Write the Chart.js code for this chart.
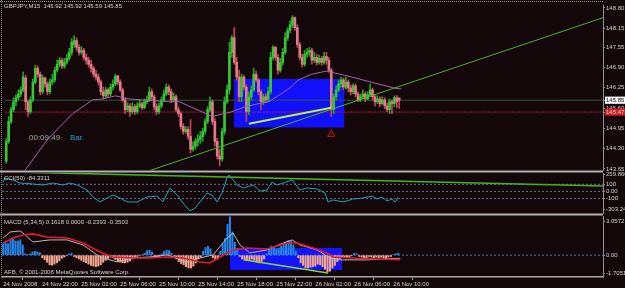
<!DOCTYPE html>
<html><head><meta charset="utf-8">
<script src="https://cdn.jsdelivr.net/npm/chart.js@4.4.1/dist/chart.umd.min.js"></script>
<style>
html,body{margin:0;padding:0;background:#14070a;width:625px;height:288px;overflow:hidden}
canvas{position:absolute;left:0;top:0}
</style></head><body>
<canvas id="cMain" width="625" height="288"></canvas>
<canvas id="cCci" width="625" height="288"></canvas>
<canvas id="cMacd" width="625" height="288"></canvas>
<script>
// ---------- DATA ----------
const symbol = 'GBPJPY,M15';
const opens = [
143.90,144.53,145.17,145.55,145.80,145.93,146.05,146.18,146.56,145.80,
145.48,145.86,146.43,146.87,146.68,146.12,146.56,146.37,146.12,146.43,
146.50,146.81,147.00,147.13,146.94,147.06,147.19,147.38,147.63,147.76,
147.54,147.38,147.44,147.22,147.13,147.00,146.87,146.68,146.59,146.43,
146.12,145.99,146.18,146.05,146.27,146.37,146.62,146.43,146.18,145.86,
145.55,145.67,145.48,145.64,145.48,145.67,145.74,145.61,145.80,145.86,
146.12,145.96,145.64,145.48,145.67,145.86,146.05,146.27,146.12,145.86,
145.96,145.55,145.42,145.01,144.85,144.92,144.69,144.28,144.38,144.53,
144.60,144.69,144.85,145.17,145.55,145.80,145.17,144.53,144.06,143.97,
144.85,145.80,146.18,147.38,147.85,147.06,146.59,145.96,146.59,146.27,
145.48,145.96,146.18,146.68,146.50,146.12,145.80,145.96,145.86,146.12,
147.22,147.54,147.22,146.81,147.06,147.38,147.85,148.08,148.26,148.49,
148.17,147.63,147.22,147.00,147.32,147.38,147.44,147.13,147.22,147.06,
147.19,147.06,147.25,147.13,146.81,145.55,145.96,146.18,146.37,146.50,
146.27,146.43,146.24,146.12,146.31,146.05,145.86,145.96,146.05,145.89,
146.02,146.18,145.96,145.80,145.89,145.74,145.86,145.67,145.55,145.80,
145.74,145.93,145.92];
const highs = [
144.63,145.33,145.64,145.93,146.02,146.18,146.27,146.75,146.65,145.86,
145.96,146.53,146.97,146.94,146.75,146.65,146.59,146.43,146.53,146.68,
146.91,147.13,147.22,147.19,147.19,147.32,147.51,147.82,147.92,147.85,
147.63,147.57,147.51,147.32,147.22,147.13,146.94,146.81,146.68,146.50,
146.27,146.27,146.24,146.37,146.50,146.68,146.65,146.50,146.24,145.93,
145.77,145.74,145.77,145.71,145.77,145.86,145.80,145.89,145.99,146.27,
146.21,146.02,145.74,145.77,145.96,146.18,146.37,146.34,146.21,146.08,
146.02,145.64,145.48,145.10,145.01,145.01,145.23,144.53,144.63,144.76,
144.85,144.95,145.26,145.64,145.96,145.86,145.26,144.63,144.28,144.95,
145.96,146.34,147.70,147.92,148.17,147.22,146.81,146.68,146.65,146.34,
146.12,146.31,146.87,146.78,146.56,146.18,146.05,146.05,146.27,147.38,
147.60,147.57,147.32,147.19,147.51,148.01,148.17,148.39,148.55,148.52,
148.26,147.70,147.32,147.44,147.51,147.54,147.51,147.38,147.32,147.29,
147.25,147.38,147.38,147.22,146.87,146.05,146.31,146.50,146.59,146.56,
146.59,146.50,146.34,146.37,146.37,146.12,146.05,146.18,146.12,146.12,
146.37,146.24,146.02,145.99,145.96,145.96,145.93,145.77,145.89,145.86,
145.99,146.00,145.92];
const lows = [
143.84,144.47,145.10,145.48,145.67,145.86,145.96,146.12,145.55,145.33,
145.42,145.80,146.37,146.59,146.02,146.05,146.27,146.02,146.05,146.34,
146.43,146.75,146.91,146.87,146.87,147.00,147.13,147.29,147.54,147.44,
147.29,147.32,147.13,147.00,146.91,146.75,146.59,146.50,146.34,146.02,
145.89,145.93,145.96,145.99,146.18,146.31,146.34,146.12,145.80,145.42,
145.48,145.33,145.42,145.39,145.42,145.61,145.55,145.58,145.74,145.80,
145.86,145.55,145.39,145.42,145.61,145.80,145.99,146.02,145.77,145.80,
145.48,145.33,144.92,144.76,144.79,144.60,144.16,144.22,144.28,144.38,
144.47,144.53,144.76,145.10,145.48,145.07,144.38,143.97,143.75,143.90,
144.76,145.74,146.05,147.22,147.00,146.50,145.80,145.80,146.18,145.17,
145.39,145.86,146.12,146.43,146.02,145.55,145.71,145.77,145.80,146.05,
147.13,147.13,146.68,146.75,146.97,147.32,147.76,148.01,148.17,148.08,
147.54,147.13,146.91,146.94,147.22,147.25,147.00,147.06,146.97,147.00,
146.97,147.00,147.00,146.75,145.33,145.42,145.86,146.12,146.27,146.18,
146.21,146.12,146.02,146.05,145.96,145.80,145.80,145.89,145.80,145.86,
145.96,145.86,145.67,145.74,145.64,145.71,145.58,145.48,145.42,145.42,
145.64,145.61,145.59];
const closes = [
144.53,145.17,145.55,145.80,145.93,146.05,146.18,146.59,145.80,145.48,
145.86,146.43,146.87,146.68,146.12,146.56,146.37,146.12,146.43,146.50,
146.81,147.00,147.13,146.94,147.06,147.19,147.38,147.70,147.76,147.54,
147.38,147.44,147.22,147.13,147.00,146.87,146.68,146.59,146.43,146.12,
145.99,146.18,146.05,146.27,146.37,146.62,146.43,146.18,145.86,145.55,
145.67,145.48,145.64,145.48,145.67,145.74,145.61,145.80,145.86,146.12,
145.96,145.64,145.48,145.67,145.86,146.05,146.27,146.12,145.86,145.96,
145.55,145.42,145.01,144.85,144.92,144.69,144.28,144.38,144.53,144.60,
144.69,144.85,145.17,145.55,145.80,145.17,144.53,144.06,143.97,144.85,
145.80,146.18,147.38,147.85,147.06,146.59,145.96,146.59,146.27,145.48,
145.96,146.18,146.68,146.50,146.12,145.80,145.96,145.86,146.12,147.22,
147.54,147.22,146.81,147.06,147.38,147.85,148.08,148.26,148.49,148.17,
147.63,147.22,147.00,147.32,147.38,147.44,147.13,147.22,147.06,147.19,
147.06,147.25,147.13,146.81,145.55,145.96,146.18,146.37,146.50,146.27,
146.43,146.24,146.12,146.31,146.05,145.86,145.96,146.05,145.89,146.02,
146.18,145.96,145.80,145.89,145.74,145.86,145.67,145.55,145.80,145.74,
145.93,145.80,145.85];

// moving average (violet) read at intervals
const maBars = [6.9,17.1,27.4,35.6,39.7,45.0,50.8,56.1,67.2,71.3,80.7,84.8,93.0,98.4,104.1,108.2,116.4,120.5,125.8,132.0,139.4,150.4,159.9,162.8];
const maVals = [143.52,144.60,145.42,145.86,145.89,145.99,145.89,145.86,145.80,145.80,145.48,145.33,145.48,145.64,145.74,145.80,146.21,146.50,146.68,146.78,146.65,146.43,146.24,146.21];

const priceTicks = ['143.65','144.30','144.95','145.60','146.25','146.90','147.55','148.15','148.80'];
const bidPrice = 145.85;
const levelPrice = 145.47;
const trendBars = [56.1, 246];
const trendVals = [143.52, 148.49];
const innerTrendBars = [100.0, 134.0];
const innerTrendVals = [145.10, 145.61];
const boxBars = [93.9, 139.4];
const boxPrices = [144.98, 146.53];
const arrowBar = 134;
const arrowPrice = 144.76;

// CCI(50)
const cciBars = [0,0.7,4.0,6.9,12.2,16.3,20.4,24.5,27.4,30.3,34.4,36.8,39.7,42.6,45.0,47.9,50.8,54.9,59.0,63.1,65.5,68.4,71.3,73.7,76.6,78.7,80.7,83.6,85.6,87.7,89.7,91.8,92.6,94.3,95.9,98.4,102.5,105.3,108.2,110.2,112.3,114.8,118.5,121.7,124.6,128.7,132.0,133.2,135.3,139.4,143.5,147.6,151.3,153.3,155.4,157.4,159.5,160.7,162];
const cciVals = [133,190,161,119,105,91,119,91,119,91,20,-78,-148,-92,-50,-92,-148,-148,-78,-64,-148,49,-50,-162,-275,-233,-148,-22,-50,-148,-22,190,232,161,91,49,91,6,20,133,91,119,161,20,49,35,-22,-148,-120,-148,-106,-92,-64,-106,-78,-134,-106,-148,-84.3311];
const cciLevels = [100, 0, -100];
const cciTickVals = [259.866, 100, 0, -100, -303.243];
const cciTickLabels = ['259.866','100','0.00','-100','-303.243'];
const cciTrendBars = [-0.5, 246];
const cciTrendVals = [278, 77];

// MACD (5,34,5)
const macdHist = [
0.9,0.95,0.9,1.2,1.3,1.1,1.1,1.2,0.8,0.1,
0.05,0.1,0.25,0.3,0.25,0.2,-0.2,-0.35,-0.55,-0.75,
-0.78,-0.7,-0.6,-0.45,-0.25,-0.15,-0.05,0.1,0.15,-0.1,
-0.2,-0.3,-0.4,-0.5,-0.6,-0.7,-0.8,-0.85,-0.9,-0.85,
-0.75,-0.55,-0.4,-0.25,-0.15,-0.2,-0.35,-0.5,-0.55,-0.6,
-0.6,-0.55,-0.45,-0.3,-0.2,-0.1,-0.05,0.05,0.15,0.35,
0.4,0.25,-0.1,-0.15,-0.1,0.1,0.3,0.4,0.35,0.15,
-0.1,-0.3,-0.5,-0.65,-0.75,-0.9,-1.0,-1.0,-0.85,-0.6,
-0.3,-0.15,0.3,0.6,0.7,0.5,-0.2,-0.35,-0.3,0.3,
0.9,1.3,2.4,3.0,1.8,1.0,0.5,-0.1,-0.3,-0.4,
-0.4,-0.35,-0.3,-0.4,-0.55,-0.6,-0.5,-0.3,0.1,0.5,
0.7,0.6,0.5,0.55,0.7,0.85,1.0,1.15,1.1,0.8,
0.3,-0.2,-0.6,-0.8,-1.0,-1.0,-0.95,-0.9,-0.85,-0.7,
-0.75,-0.9,-1.1,-1.3,-1.25,-1.0,-0.8,-0.5,-0.3,-0.2,
-0.15,-0.2,-0.15,-0.05,0.15,0.1,-0.1,-0.15,-0.2,-0.2,
-0.1,-0.15,-0.2,-0.15,-0.2,-0.15,-0.2,-0.25,-0.15,-0.1,
0.05,0.1,0.1618];
const macdRedBars = [0,4.0,8.1,12.2,18.0,26.2,32.7,39.7,45.0,53.2,60.2,67.2,73.7,80.7,84.8,88.9,94.3,100.0,108.2,116.4,120.5,127.1,132.8,135.3,142.3,155.8,162.8];
const macdRedVals = [0.95,1.34,1.58,1.66,1.42,1.34,0.95,0.25,-0.14,-0.22,-0.22,-0.14,-0.22,-0.53,-0.61,-0.14,0.41,0.56,0.48,0.95,0.95,0.56,0.17,-0.14,-0.22,-0.32,-0.3503];
const macdGrayBars = [0,2.8,6.9,8.1,12.2,19.2,26.2,32.7,39.7,46.7,53.2,60.2,67.2,75.4,80.7,86.1,91.8,94.3,97.1,101.2,108.2,114.8,118.5,121.7,128.7,134.0,138.1,149.2,162.8];
const macdGrayVals = [1.34,1.81,1.89,1.73,1.03,1.19,1.19,0.80,-0.14,-0.53,-0.22,-0.14,0.02,-0.53,-0.22,0.02,1.34,1.73,0.80,0.17,0.41,0.95,1.19,0.80,0.41,-0.22,-0.37,-0.37,-0.2393];
const macdTickVals = [3.0572, 0, -1.7051];
const macdTickLabels = ['3.0572','0.00','-1.7051'];
const macdBoxBars = [93.0, 139.0];
const macdBoxVals = [-1.16, 0.56];
const macdTrendBars = [99.2, 133.2];
const macdTrendVals = [-0.37, -1.39];

const timeTickBars = [0,16,32,48,64,80,96,112,128,144,160];
const timeLabels = ['24 Nov 2008','24 Nov 22:00','25 Nov 02:00','25 Nov 06:00','25 Nov 10:00','25 Nov 14:00','25 Nov 18:00','25 Nov 22:00','26 Nov 02:00','26 Nov 06:00','26 Nov 10:00'];

const last = closes.length - 1;
const mainTitle = symbol + '  ' + [opens[last], highs[last], lows[last], closes[last]].map(v => v.toFixed(2)).join(' ');
const cciTitle = 'CCI(50) -84.3311';
const macdTitle = 'MACD (5,34,5) 0.1618 0.0000 -0.2393 -0.3503';
const copyright = 'AFB, \u00a9 2001-2008 MetaQuotes Software Corp.';
const timerText = '00:09:49';
const barText = 'Bar.';

// ---------- STYLE / HELPERS ----------
Chart.defaults.font.family = "'Liberation Sans', Arial, sans-serif";
const X_MIN = -0.5, X_MAX = 246;
const FONT6 = {family: "'Liberation Sans', Arial, sans-serif", size: 6};
const TXT = '#d4d4d4';
const AXIS = '#8e8e8e';

function pts(xs, ys) { return xs.map((x, i) => ({x: x, y: ys[i]})); }
function lineDs(data, color, width, extra) {
  return Object.assign({type: 'line', data: data, borderColor: color, borderWidth: width,
    pointRadius: 0, fill: false, tension: 0}, extra || {});
}
const decor = {
  id: 'decor',
  afterDraw(chart, args, opts) {
    const ctx = chart.ctx;
    ctx.save();
    (opts.lines || []).forEach(l => {
      ctx.strokeStyle = l.color; ctx.lineWidth = l.width || 1;
      ctx.setLineDash(l.dash || []);
      ctx.beginPath(); ctx.moveTo(l.x1, l.y1); ctx.lineTo(l.x2, l.y2); ctx.stroke();
    });
    ctx.setLineDash([]);
    (opts.texts || []).forEach(t => {
      ctx.font = t.font; ctx.fillStyle = t.color;
      ctx.textBaseline = 'middle'; ctx.textAlign = 'left';
      ctx.fillText(t.text, t.x, t.y);
    });
    ctx.restore();
  }
};
function yFit(s) { s.width = 22; s.paddingTop = 0; s.paddingBottom = 0; }
function hiddenX() {
  return {type: 'linear', min: X_MIN, max: X_MAX, offset: false, display: false};
}
const baseOpts = {
  responsive: false, animation: false, devicePixelRatio: 1, events: [],
};
const noPlug = {legend: {display: false}, tooltip: {enabled: false}};

// ---------- MAIN PRICE CHART ----------
const isBull = i => closes[i] >= opens[i];
new Chart(document.getElementById('cMain'), {
  type: 'bar',
  data: {datasets: [
    lineDs(pts(boxBars, [boxPrices[1], boxPrices[1]]), 'rgba(0,0,0,0)', 0,
      {fill: {value: boxPrices[0]}, backgroundColor: '#1010fa', order: 10}),
    lineDs(pts([X_MIN, X_MAX], [bidPrice, bidPrice]), '#2c5a2c', 1, {order: 5}),
    lineDs(pts([X_MIN, X_MAX], [levelPrice, levelPrice]), '#c0163c', 1, {borderDash: [2, 1], order: 5}),
    {type: 'bar', data: lows.map((l, i) => ({x: i, y: [l, highs[i]]})),
      backgroundColor: c => isBull(c.dataIndex) ? '#25a025' : '#c04658',
      barThickness: 1, grouped: false, borderWidth: 0, order: 3},
    {type: 'bar', data: opens.map((o, i) => ({x: i, y: [o, closes[i]]})),
      backgroundColor: c => isBull(c.dataIndex) ? '#34c834' : '#e27a88',
      barThickness: 2, minBarLength: 1, grouped: false, borderWidth: 0, order: 2},
    lineDs(pts(maBars, maVals), '#a262b4', 1, {order: 1}),
    lineDs(pts(trendBars, trendVals), '#4cb41e', 1, {order: 0}),
    lineDs(pts(innerTrendBars, innerTrendVals), '#b8f048', 2, {order: 0}),
    {type: 'scatter', data: [{x: arrowBar, y: arrowPrice}], pointStyle: 'triangle',
      pointRadius: 4, borderColor: '#d41a1a', backgroundColor: 'rgba(0,0,0,0)', borderWidth: 1, order: -1}
  ]},
  options: Object.assign({}, baseOpts, {
    layout: {padding: {top: 2, left: 2, right: 0, bottom: 118}},
    scales: {
      x: hiddenX(),
      y: {type: 'linear', position: 'right', min: 143.618, max: 148.895,
        afterFit: yFit,
        afterBuildTicks: s => {
          s.ticks = priceTicks.map(t => ({value: parseFloat(t)}))
            .concat([{value: bidPrice}, {value: levelPrice}]);
        },
        ticks: {
          font: FONT6, padding: 1, autoSkip: false,
          callback: v => v.toFixed(2),
          color: c => (c.tick && c.tick.value === bidPrice) ? '#000000' : TXT,
          showLabelBackdrop: c => !!c.tick && (c.tick.value === bidPrice || c.tick.value === levelPrice),
          backdropColor: c => (c.tick && c.tick.value === levelPrice) ? '#d41c24' : '#ffffff',
          backdropPadding: {top: 0, bottom: 0, left: 1, right: 2}
        },
        grid: {drawOnChartArea: false, tickLength: 2, color: AXIS},
        border: {display: true, color: AXIS}
      }
    },
    plugins: Object.assign({}, noPlug, {decor: {
      lines: [
        {x1: 0, y1: 1.5, x2: 603, y2: 1.5, color: '#9a9a9a', dash: [1, 1]}
      ],
      texts: [
        {text: mainTitle, x: 4, y: 6, font: "6px 'Liberation Sans'", color: TXT},
        {text: timerText, x: 29, y: 138, font: "8px 'Liberation Sans'", color: '#a8a8a8'},
        {text: barText, x: 70, y: 138, font: "8px 'Liberation Sans'", color: '#1ca4c4'}
      ]
    }})
  }),
  plugins: [decor]
});

// ---------- CCI CHART ----------
new Chart(document.getElementById('cCci'), {
  type: 'line',
  data: {datasets: cciLevels.map(v => lineDs(pts([X_MIN, X_MAX], [v, v]), '#5e6c8e', 1, {borderDash: [2, 2], order: 5}))
    .concat([
      lineDs(pts(cciTrendBars, cciTrendVals), '#44b21c', 1.6, {order: 2, clip: 0}),
      lineDs(pts(cciBars, cciVals), '#1fa2b4', 1, {order: 0})
    ])},
  options: Object.assign({}, baseOpts, {
    layout: {padding: {top: 173, left: 2, right: 0, bottom: 75}},
    scales: {
      x: hiddenX(),
      y: {type: 'linear', position: 'right', min: -303.243, max: 259.866,
        afterFit: yFit,
        afterBuildTicks: s => {
          const perPx = (s.max - s.min) / 40;
          s.ticks = cciTickVals.map((v, i) => ({value: i === 0 ? v - perPx : (i === cciTickVals.length - 1 ? v + 4 * perPx : v)}));
        },
        ticks: {font: FONT6, padding: 1, color: TXT, autoSkip: false,
          callback: (v, i) => cciTickLabels[i]},
        grid: {drawOnChartArea: false, tickLength: 2, color: AXIS},
        border: {display: true, color: AXIS}
      }
    },
    plugins: Object.assign({}, noPlug, {decor: {
      lines: [
        {x1: 0, y1: 171.5, x2: 603, y2: 171.5, color: '#b2b2b2', width: 2},
        {x1: 0, y1: 214.5, x2: 603, y2: 214.5, color: '#b2b2b2', width: 2}
      ],
      texts: [{text: cciTitle, x: 4, y: 178, font: "6px 'Liberation Sans'", color: TXT}]
    }})
  }),
  plugins: [decor]
});

// ---------- MACD CHART ----------
new Chart(document.getElementById('cMacd'), {
  type: 'bar',
  data: {datasets: [
    lineDs(pts(macdBoxBars, [macdBoxVals[1], macdBoxVals[1]]), 'rgba(0,0,0,0)', 0,
      {fill: {value: macdBoxVals[0]}, backgroundColor: '#1414fa', order: 10}),
    lineDs(pts([X_MIN, X_MAX], [0, 0]), '#4a78aa', 1, {borderDash: [2, 2], order: 6}),
    {type: 'bar', data: macdHist.map((v, i) => ({x: i, y: v})),
      backgroundColor: c => macdHist[c.dataIndex] >= 0 ? '#2286ea' : '#f2a68e',
      barThickness: 1.4, grouped: false, borderWidth: 0, order: 3},
    lineDs(pts(macdGrayBars, macdGrayVals), '#b8b8b8', 1, {order: 2}),
    lineDs(pts(macdRedBars, macdRedVals), '#e8182e', 1.6, {order: 1}),
    lineDs(pts(macdTrendBars, macdTrendVals), '#86d828', 1.5, {order: 0})
  ]},
  options: Object.assign({}, baseOpts, {
    layout: {padding: {top: 216, left: 2, right: 0, bottom: 0}},
    scales: {
      x: {type: 'linear', min: X_MIN, max: X_MAX, offset: false, position: 'bottom',
        afterFit: s => { s.height = 11; s.paddingLeft = 0; s.paddingRight = 0; },
        afterBuildTicks: s => { s.ticks = timeTickBars.map(v => ({value: v})); },
        ticks: {font: FONT6, color: TXT, padding: 1, align: 'start', autoSkip: false,
          maxRotation: 0, minRotation: 0, callback: (v, i) => timeLabels[i]},
        grid: {drawOnChartArea: false, tickLength: 3, color: '#a0a0a0'},
        border: {display: true, color: '#a8a8a8', width: 1.5}
      },
      y: {type: 'linear', position: 'right', min: -1.7051, max: 3.0572,
        afterFit: yFit,
        afterBuildTicks: s => {
          const perPx = (s.max - s.min) / 61;
          s.ticks = macdTickVals.map((v, i) => ({value: i === 0 ? v - 5 * perPx : (i === macdTickVals.length - 1 ? v + 4 * perPx : v)}));
        },
        ticks: {font: FONT6, padding: 1, color: TXT, autoSkip: false,
          callback: (v, i) => macdTickLabels[i]},
        grid: {drawOnChartArea: false, tickLength: 2, color: AXIS},
        border: {display: true, color: AXIS}
      }
    },
    plugins: Object.assign({}, noPlug, {decor: {
      lines: [
        {x1: 1.5, y1: 0, x2: 1.5, y2: 277, color: '#8a8a8a', dash: [1, 1]}
      ],
      texts: [
        {text: macdTitle, x: 4, y: 222, font: "6px 'Liberation Sans'", color: TXT},
        {text: copyright, x: 4, y: 272, font: "6px 'Liberation Sans'", color: TXT}
      ]
    }})
  }),
  plugins: [decor]
});
</script>
</body></html>
